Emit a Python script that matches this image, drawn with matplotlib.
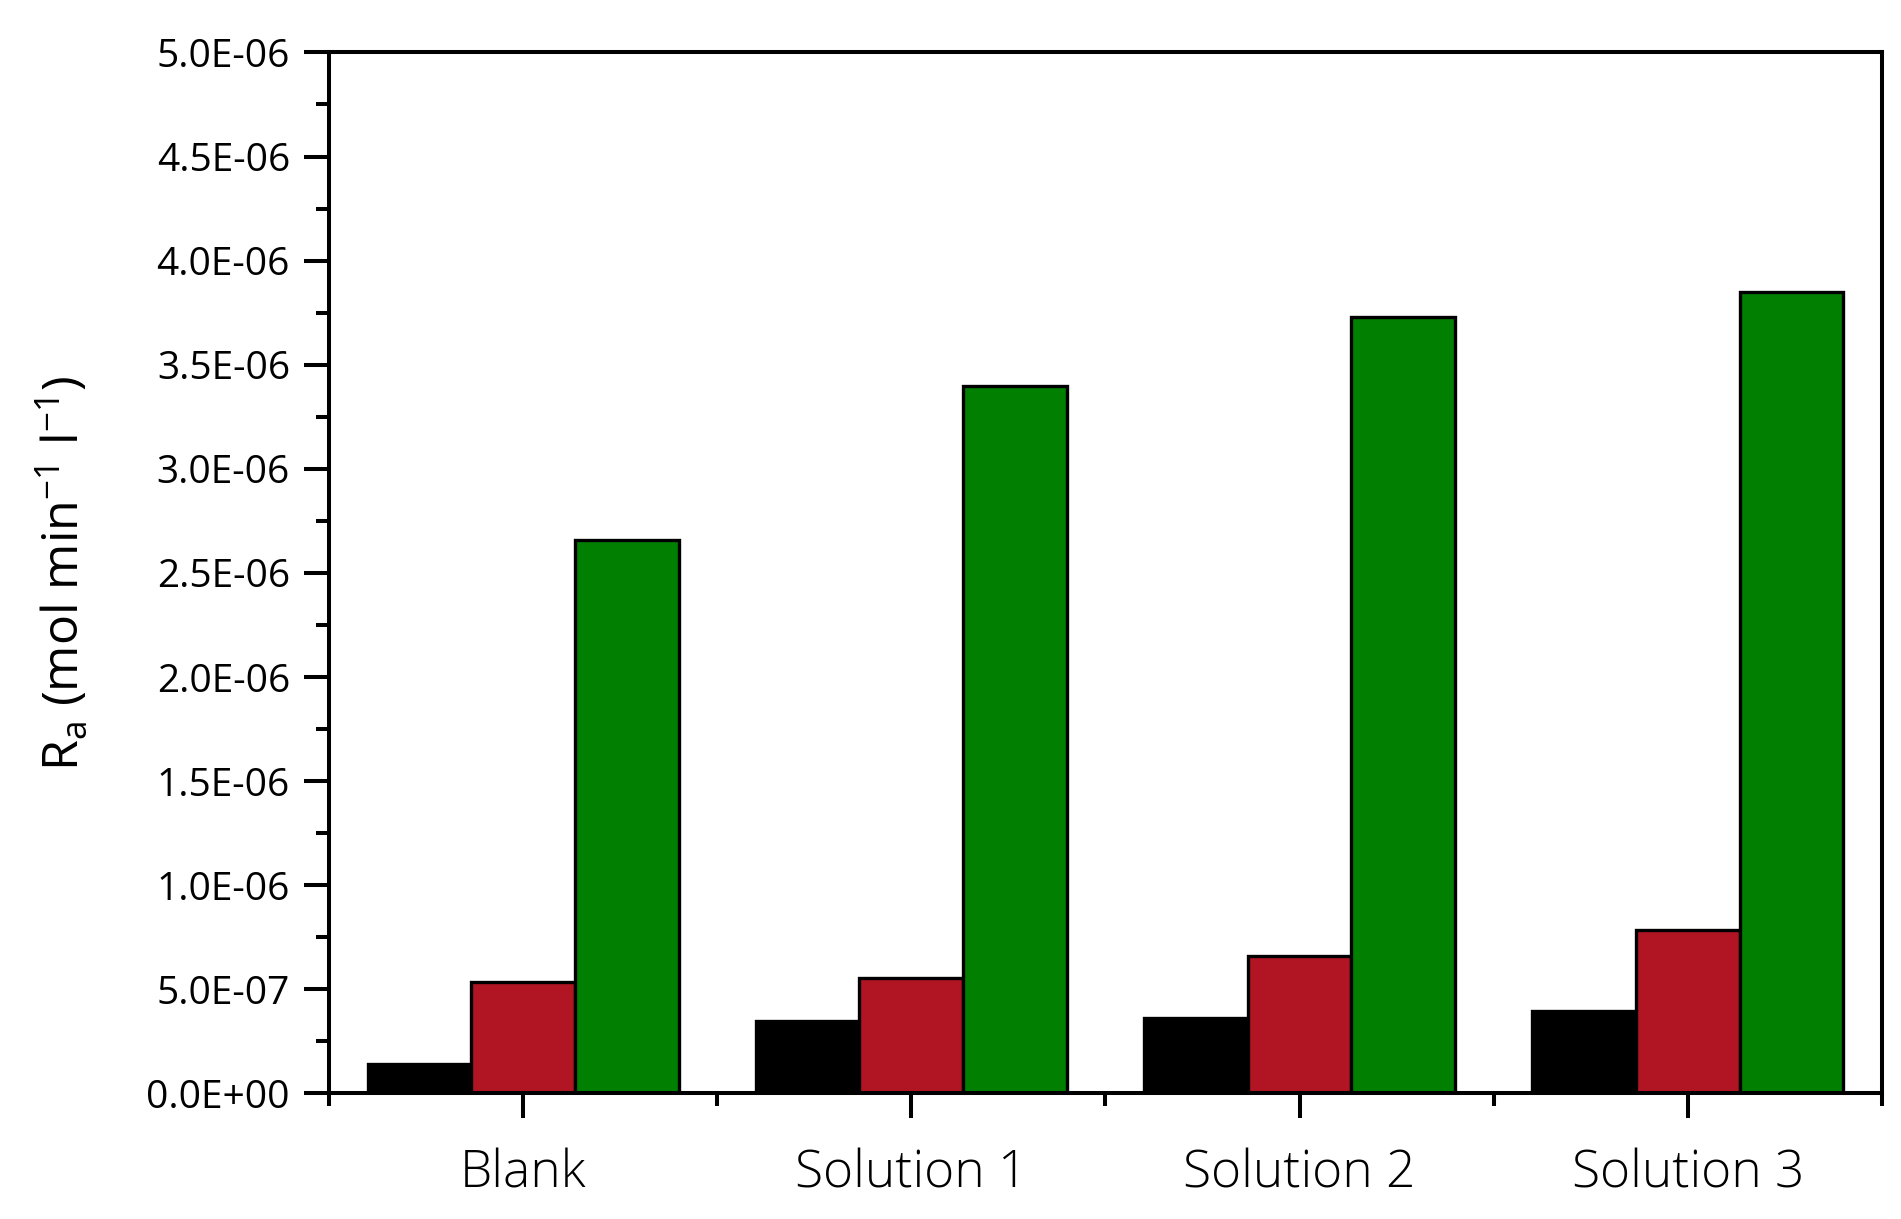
import numpy as np
import matplotlib
matplotlib.use('Agg')
import matplotlib.pyplot as plt
from matplotlib.ticker import MultipleLocator, FixedLocator

# values
categories = ['Blank', 'Solution 1', 'Solution 2', 'Solution 3']
series_black = [0.14e-6, 0.35e-6, 0.36e-6, 0.395e-6]
series_red = [0.535e-6, 0.555e-6, 0.66e-6, 0.787e-6]
series_green = [2.66e-6, 3.40e-6, 3.73e-6, 3.85e-6]

plt.rcParams['font.family'] = ['Open Sans', 'DejaVu Sans']
plt.rcParams['font.weight'] = 'light'
plt.rcParams['mathtext.fontset'] = 'custom'
plt.rcParams['mathtext.rm'] = 'Open Sans:light'

fig = plt.figure(figsize=(19.01, 12.19), dpi=100)
ax = fig.add_axes([0.173, 0.103, 0.817, 0.854])

x = np.arange(1, len(categories) + 1)
w = 0.267
lw = 2.4
ax.bar(x - w, series_black, w, color='black', edgecolor='black', linewidth=lw)
ax.bar(x, series_red, w, color='#B11423', edgecolor='black', linewidth=lw)
ax.bar(x + w, series_green, w, color='#007F00', edgecolor='black', linewidth=lw)

ax.set_xlim(0.5, 4.5)
ax.set_ylim(0, 5e-6)

ax.xaxis.set_major_locator(FixedLocator(x))
ax.xaxis.set_minor_locator(FixedLocator(np.arange(0.5, 4.6, 1.0)))
ax.set_xticklabels(categories, fontsize=37)

yt = np.arange(0, 5.01e-6, 0.5e-6)
ax.set_yticks(yt)
ax.set_yticklabels(['%.1E' % v for v in yt], fontsize=28, fontweight='normal')
ax.yaxis.set_minor_locator(MultipleLocator(0.25e-6))

ax.tick_params(axis='both', which='major', length=18, width=2.9, direction='out')
ax.tick_params(axis='both', which='minor', length=9.5, width=2.9, direction='out')
ax.tick_params(axis='x', which='major', pad=21)
ax.tick_params(axis='y', which='major', pad=10)
ax.tick_params(top=False, right=False, which='both')

for s in ax.spines.values():
    s.set_linewidth(2.9)

ax.set_ylabel(r'R$_\mathregular{a}$ (mol min$^\mathregular{-1}$ l$^\mathregular{-1}$)', fontsize=36, labelpad=40)

fig.savefig('out.png', dpi=100)
